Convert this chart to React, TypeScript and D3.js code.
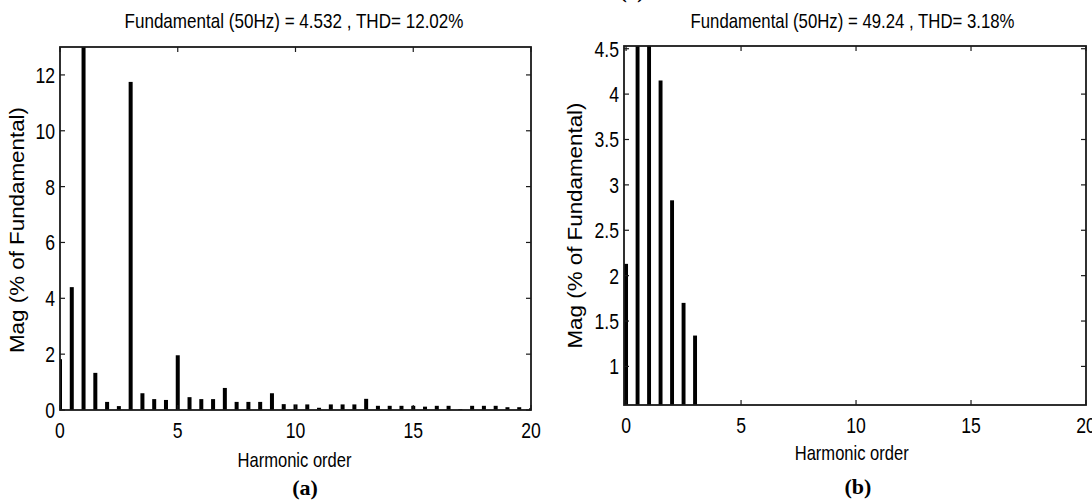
import React, { useEffect, useRef } from 'react'
import * as d3 from 'd3'

// harmonic orders (0.5 step), shared by both spectra
const harmonicOrder = [
  0, 0.5, 1, 1.5, 2, 2.5, 3, 3.5, 4, 4.5, 5, 5.5, 6, 6.5, 7, 7.5, 8, 8.5, 9, 9.5, 10,
  10.5, 11, 11.5, 12, 12.5, 13, 13.5, 14, 14.5, 15, 15.5, 16, 16.5, 17, 17.5, 18, 18.5,
  19, 19.5, 20,
]

// (a) magnitude, % of fundamental
const magA = [
  1.82, 4.4, 100, 1.33, 0.29, 0.14, 11.75, 0.6, 0.39, 0.36, 1.96, 0.46, 0.39, 0.39, 0.79,
  0.29, 0.29, 0.29, 0.6, 0.21, 0.2, 0.2, 0.08, 0.2, 0.2, 0.2, 0.4, 0.15, 0.15, 0.15, 0.15,
  0.12, 0.15, 0.15, 0.03, 0.15, 0.15, 0.15, 0.1, 0.1, 0.06,
]

// (b) magnitude, % of fundamental (values below the y limit are not visible)
const magB = [
  2.13, 4.9, 100, 4.15, 2.83, 1.7, 1.34, 0, 0, 0, 0, 0, 0, 0, 0, 0, 0, 0, 0, 0, 0,
  0, 0, 0, 0, 0, 0, 0, 0, 0, 0, 0, 0, 0, 0, 0, 0, 0, 0, 0, 0,
]

const xTicks = [0, 5, 10, 15, 20]
const yTicksA = [0, 2, 4, 6, 8, 10, 12]
const yTicksB = [1, 1.5, 2, 2.5, 3, 3.5, 4, 4.5]

const titleA = 'Fundamental (50Hz) = 4.532 , THD= 12.02%'
const titleB = 'Fundamental (50Hz) = 49.24 , THD= 3.18%'

const sans = "'Liberation Sans', Arial, sans-serif"
const serif = "'Liberation Serif', 'Times New Roman', serif"

// condensed text: the narrow face is not installed, so squeeze a regular one
function narrowText(g, x, y, anchor, text, size) {
  return g.append('text')
    .attr('transform', `translate(${x},${y}) scale(0.8,1)`)
    .attr('text-anchor', anchor)
    .attr('font-family', sans)
    .attr('font-size', size)
    .text(text)
}

function drawPanel(svg, cfg) {
  const { box, xDomain, yDomain, values, yTicks, title, label, id } = cfg
  const x = d3.scaleLinear().domain(xDomain).range([box.left, box.right])
  const y = d3.scaleLinear().domain(yDomain).range([box.bottom, box.top])
  const g = svg.append('g')

  g.append('clipPath').attr('id', id)
    .append('rect')
    .attr('x', box.left).attr('y', box.top)
    .attr('width', box.right - box.left).attr('height', box.bottom - box.top)

  // bars
  const halfW = 0.085
  const y0 = Math.max(0, yDomain[0])
  g.append('g').attr('clip-path', `url(#${id})`)
    .selectAll('rect')
    .data(harmonicOrder.map((h, i) => ({ h, v: values[i] })).filter(d => d.v > yDomain[0]))
    .join('rect')
    .attr('fill', '#000')
    .attr('x', d => x(d.h - halfW))
    .attr('width', d => x(d.h + halfW) - x(d.h - halfW))
    .attr('y', d => y(Math.min(d.v, yDomain[1] + 1)))
    .attr('height', d => y(y0) - y(Math.min(d.v, yDomain[1] + 1)) + 2)

  // frame
  g.append('rect')
    .attr('x', box.left).attr('y', box.top)
    .attr('width', box.right - box.left).attr('height', box.bottom - box.top)
    .attr('fill', 'none').attr('stroke', '#1a1a1a').attr('stroke-width', 1.8)

  // ticks, inside on all four sides
  const tl = 5
  xTicks.forEach(t => {
    g.append('line').attr('x1', x(t)).attr('x2', x(t)).attr('y1', box.bottom).attr('y2', box.bottom - tl)
      .attr('stroke', '#1a1a1a').attr('stroke-width', 1.2)
    g.append('line').attr('x1', x(t)).attr('x2', x(t)).attr('y1', box.top).attr('y2', box.top + tl)
      .attr('stroke', '#1a1a1a').attr('stroke-width', 1.2)
    narrowText(g, x(t), box.bottom + 28, 'middle', t, 22)
  })
  yTicks.forEach(t => {
    g.append('line').attr('x1', box.left).attr('x2', box.left + tl).attr('y1', y(t)).attr('y2', y(t))
      .attr('stroke', '#1a1a1a').attr('stroke-width', 1.2)
    g.append('line').attr('x1', box.right).attr('x2', box.right - tl).attr('y1', y(t)).attr('y2', y(t))
      .attr('stroke', '#1a1a1a').attr('stroke-width', 1.2)
    narrowText(g, box.left - 5, y(t) + 8, 'end', t, 22)
  })

  // title and labels
  g.append('text').attr('x', title.x).attr('y', 28)
    .attr('text-anchor', 'middle').attr('font-family', sans).attr('font-size', 21)
    .attr('textLength', title.w).attr('lengthAdjust', 'spacingAndGlyphs')
    .text(title.text)
  g.append('text').attr('x', cfg.xlab.x).attr('y', cfg.xlab.y)
    .attr('text-anchor', 'middle').attr('font-family', sans).attr('font-size', 21)
    .attr('textLength', 114).attr('lengthAdjust', 'spacingAndGlyphs')
    .text('Harmonic order')
  g.append('text')
    .attr('transform', `translate(${cfg.ylab.x},${cfg.ylab.y}) rotate(-90)`)
    .attr('text-anchor', 'middle').attr('font-family', sans).attr('font-size', 20)
    .attr('textLength', 246).attr('lengthAdjust', 'spacingAndGlyphs')
    .text('Mag (% of Fundamental)')
  g.append('text').attr('x', label.x).attr('y', label.y)
    .attr('text-anchor', 'middle').attr('font-family', serif)
    .attr('font-weight', 'bold').attr('font-size', 22)
    .text(label.text)
}

function HarmonicSpectra() {
  const svgRef = useRef(null)

  useEffect(() => {
    const svg = d3.select(svgRef.current)
    svg.selectAll('*').remove()

    drawPanel(svg, {
      id: 'clipA',
      box: { left: 60, right: 531, top: 47, bottom: 410 },
      xDomain: [0, 20],
      yDomain: [0, 13],
      values: magA,
      yTicks: yTicksA,
      title: { text: titleA, x: 294, w: 339 },
      xlab: { x: 294.5, y: 467 },
      ylab: { x: 24, y: 230 },
      label: { text: '(a)', x: 305, y: 495 },
    })

    drawPanel(svg, {
      id: 'clipB',
      box: { left: 624, right: 1086, top: 46, bottom: 405 },
      xDomain: [-0.09, 20],
      yDomain: [0.575, 4.53],
      values: magB,
      yTicks: yTicksB,
      title: { text: titleB, x: 852.5, w: 324 },
      xlab: { x: 851.7, y: 460 },
      ylab: { x: 582, y: 225.5 },
      label: { text: '(b)', x: 858, y: 494 },
    })

    // cut-off caption from the figure above, only its bottom edge shows
    svg.append('text').attr('x', 632).attr('y', -2)
      .attr('text-anchor', 'middle').attr('font-family', serif)
      .attr('font-weight', 'bold').attr('font-size', 21)
      .text('(a)')
  }, [])

  return (
    <svg
      ref={svgRef}
      width={1092}
      height={502}
      style={{ position: 'absolute', left: 0, top: 0, background: '#fff' }}
    />
  )
}

export default function App() {
  return <HarmonicSpectra />
}
